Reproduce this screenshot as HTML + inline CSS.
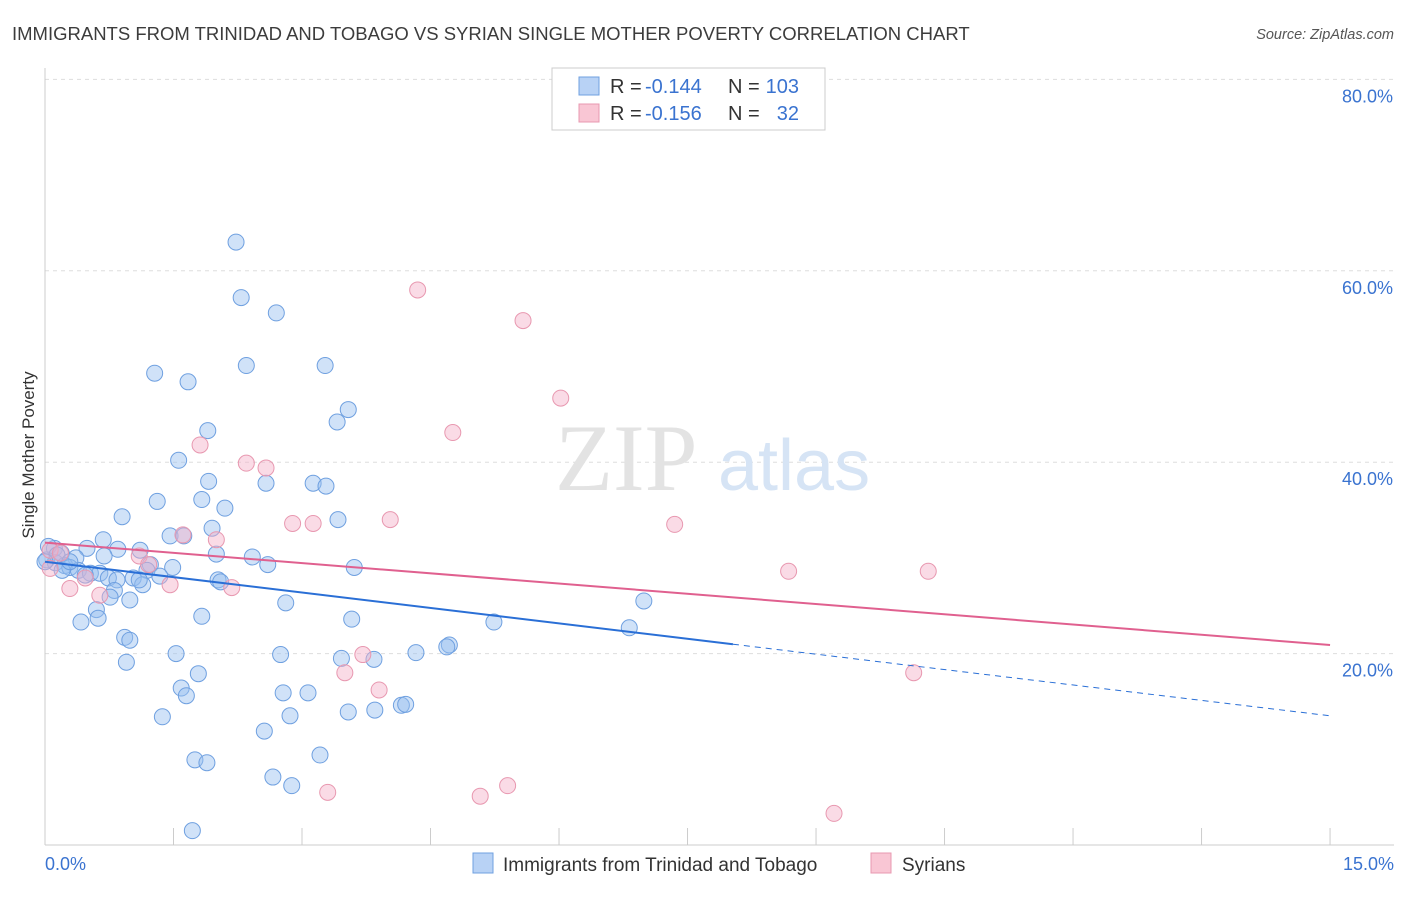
<!DOCTYPE html>
<html><head><meta charset="utf-8"><style>
body{margin:0;background:#fff;font-family:"Liberation Sans",sans-serif;}
</style></head><body>
<svg id="chart" width="1406" height="892" xmlns="http://www.w3.org/2000/svg" font-family="Liberation Sans, sans-serif">
<text x="12" y="40" font-size="18.5" fill="#3c3c3c">IMMIGRANTS FROM TRINIDAD AND TOBAGO VS SYRIAN SINGLE MOTHER POVERTY CORRELATION CHART</text>
<text x="1394" y="39" font-size="14.5" fill="#555" font-style="italic" text-anchor="end">Source: ZipAtlas.com</text>
<g id="grid"></g>
<text x="555" y="490" font-size="95" fill="#e3e3e3" font-family="Liberation Serif, serif">ZIP</text>
<text x="718" y="490" font-size="72" fill="#d6e4f5">atlas</text>
<text transform="translate(34,455) rotate(-90)" font-size="17" fill="#333" text-anchor="middle">Single Mother Poverty</text>
<g id="marks"></g>
<g id="lines"></g>
<g>
<rect x="552" y="68" width="273" height="62" fill="#fff" stroke="#ccc"/>
<rect x="579" y="77" width="20" height="18" fill="#b8d2f5" stroke="#6fa0e0"/>
<rect x="579" y="104" width="20" height="18" fill="#f9c6d4" stroke="#e898b0"/>
<text x="610" y="93" font-size="20" fill="#333">R =</text>
<text x="645" y="93" font-size="20" fill="#3a73d0">-0.144</text>
<text x="728" y="93" font-size="20" fill="#333">N =</text>
<text x="799" y="93" font-size="20" fill="#3a73d0" text-anchor="end">103</text>
<text x="610" y="120" font-size="20" fill="#333">R =</text>
<text x="645" y="120" font-size="20" fill="#3a73d0">-0.156</text>
<text x="728" y="120" font-size="20" fill="#333">N =</text>
<text x="799" y="120" font-size="20" fill="#3a73d0" text-anchor="end">32</text>
</g>
<g>
<rect x="473" y="853" width="20" height="20" fill="#b8d2f5" stroke="#6fa0e0"/>
<text x="503" y="871" font-size="19" fill="#333">Immigrants from Trinidad and Tobago</text>
<rect x="871" y="853" width="20" height="20" fill="#f9c6d4" stroke="#e898b0"/>
<text x="902" y="871" font-size="19" fill="#333">Syrians</text>
</g>
</svg>
<script>
const xTicks=[0,1.5,3,4.5,6,7.5,9,10.5,12,13.5,15];
const yTicks=[20,40,60,80];
const yTickLabels=["20.0%","40.0%","60.0%","80.0%"];
const xEndLabels=["0.0%","15.0%"];
const blueX=[2.23,2.29,2.70,1.28,1.67,2.35,3.27,3.54,3.41,1.90,1.56,1.91,2.58,3.13,3.28,1.31,1.83,2.10,0.90,3.42,1.95,1.46,1.62,0.68,0.49,0.85,1.11,0.11,0.19,0.36,0.69,2.00,2.42,2.60,3.61,0.02,0.12,0.23,0.29,0.39,0.53,0.64,0.74,0.84,1.03,1.23,1.19,1.49,1.34,1.14,0.81,2.02,2.05,0.76,0.99,0.60,0.62,0.42,1.83,2.81,3.58,5.24,6.99,6.82,0.93,0.99,4.72,4.69,0.95,1.53,2.75,3.46,3.84,4.33,1.79,1.59,1.65,2.78,3.07,1.37,2.86,3.54,3.85,4.16,4.21,2.56,3.21,1.75,1.89,2.66,2.88,1.72,0.04,0.14,0.0,0.2,0.47,1.10,0.29];
const blueY=[63.0,57.2,55.6,49.3,48.4,50.1,50.1,45.5,44.2,43.3,40.2,38.0,37.8,37.8,37.5,35.9,36.1,35.2,34.3,34.0,33.1,32.3,32.3,31.9,31.0,30.9,30.8,31.0,30.5,30.0,30.2,30.4,30.1,29.3,29.0,29.8,29.5,29.2,29.0,28.7,28.4,28.4,27.9,27.7,27.9,29.3,28.7,29.0,28.1,27.2,26.6,27.7,27.5,25.9,25.6,24.6,23.7,23.3,23.9,25.3,23.6,23.3,25.5,22.7,21.7,21.4,20.9,20.7,19.1,20.0,19.9,19.5,19.4,20.1,17.9,16.4,15.6,15.9,15.9,13.4,13.5,13.9,14.1,14.6,14.7,11.9,9.4,8.9,8.6,7.1,6.2,1.5,31.2,30.3,29.6,28.7,28.2,27.7,29.6];
const pinkX=[4.35,5.58,6.02,4.76,1.81,2.35,2.58,4.03,2.89,3.13,7.35,1.61,2.00,1.10,0.06,0.18,0.47,0.29,0.64,1.46,2.18,1.21,8.68,10.31,3.71,3.50,3.90,10.14,3.30,5.08,5.40,9.21,0.06];
const pinkY=[58.0,54.8,46.7,43.1,41.8,39.9,39.4,34.0,33.6,33.6,33.5,32.4,31.9,30.2,30.8,30.5,27.9,26.8,26.1,27.2,26.9,29.3,28.6,28.6,19.9,18.0,16.2,18.0,5.5,5.1,6.2,3.3,28.9];
const blueTrend=[29.6,13.5];
const pinkTrend=[31.6,20.9];
const blueSolidEnd=8.03;
const NS="http://www.w3.org/2000/svg";
const X=v=>45+v*85.67, Y=v=>845-v*9.57;
function mk(tag,attrs,parent){const e=document.createElementNS(NS,tag);for(const k in attrs)e.setAttribute(k,attrs[k]);parent.appendChild(e);return e;}
const grid=document.getElementById('grid'),marks=document.getElementById('marks'),lines=document.getElementById('lines');
yTicks.forEach((t,i)=>{
 const l=mk('line',{x1:45,x2:1394,y1:Y(t),y2:Y(t),stroke:'#ddd','stroke-dasharray':'4,4'},grid);
 
 
 const tx=mk('text',{x:1393,y:Y(t)+23,'font-size':18,fill:'#3a73d0','text-anchor':'end'},grid);
 tx.textContent=yTickLabels[i];
 
 
});
const axl=mk('line',{x1:45,x2:45,y1:68,y2:845,stroke:'#ccc'},grid);


const axb=mk('line',{x1:45,x2:1394,y1:845,y2:845,stroke:'#ccc'},grid);


xTicks.forEach(t=>{
 const l=mk('line',{x1:X(t),x2:X(t),y1:828,y2:845,stroke:'#ccc'},grid);
 
 
});
[[0,'start',45],[15,'end',1394]].forEach((a,i)=>{
 const tx=mk('text',{x:a[2],y:870,'font-size':18,fill:'#3a73d0','text-anchor':a[1]},grid);
 tx.textContent=xEndLabels[i];
 
 
});
blueX.forEach((v,i)=>{
 const c=mk('circle',{cx:X(v),cy:Y(blueY[i]),r:8,fill:'rgba(150,190,240,0.45)',stroke:'#6fa0e0','stroke-width':1},marks);
 
 
});
pinkX.forEach((v,i)=>{
 const c=mk('circle',{cx:X(v),cy:Y(pinkY[i]),r:8,fill:'rgba(245,175,200,0.45)',stroke:'#e898b0','stroke-width':1},marks);
 
 
});
const bAt=x=>blueTrend[0]+(blueTrend[1]-blueTrend[0])*x/15;
const b1=mk('line',{x1:X(0),y1:Y(bAt(0)),x2:X(blueSolidEnd),y2:Y(bAt(blueSolidEnd)),stroke:'#2a6fd6','stroke-width':2},lines);


const b2=mk('line',{x1:X(blueSolidEnd),y1:Y(bAt(blueSolidEnd)),x2:X(15),y2:Y(bAt(15)),stroke:'#2a6fd6','stroke-width':1,'stroke-dasharray':'6,5'},lines);


const p1=mk('line',{x1:X(0),y1:Y(pinkTrend[0]),x2:X(15),y2:Y(pinkTrend[1]),stroke:'#e0608f','stroke-width':2},lines);


</script>
</body></html>
